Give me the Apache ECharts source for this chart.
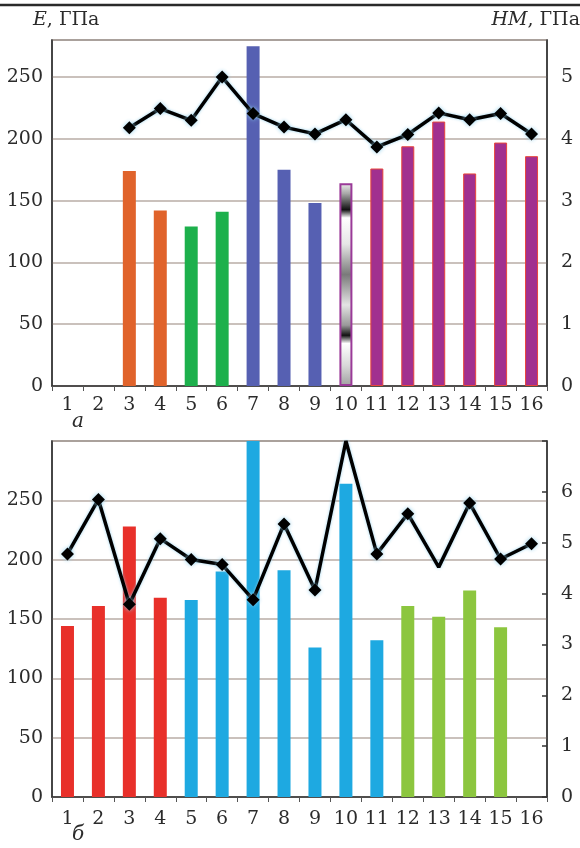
<!DOCTYPE html>
<html>
<head>
<meta charset="utf-8">
<script src="https://cdn.jsdelivr.net/npm/echarts@6/dist/echarts.min.js"></script>
<style>
html,body{margin:0;padding:0;background:#fff;}
#c{width:580px;height:848px;}
</style>
</head>
<body>
<div id="c"></div>
<script>
// ---- data ----
const categories = ['1','2','3','4','5','6','7','8','9','10','11','12','13','14','15','16'];
// panel a
const eTop  = [null, null, 174, 142, 129, 141, 275, 175, 148, 164, 176, 194, 214, 172, 197, 186];
const hmTop = [null, null, 4.18, 4.49, 4.30, 5.00, 4.41, 4.19, 4.08, 4.31, 3.87, 4.07, 4.42, 4.31, 4.41, 4.08];
const groupTop = [0, 0, 0, 0, 1, 1, 2, 2, 2, 3, 4, 4, 4, 4, 4, 4];
// panel b
const eBottom  = [144, 161, 228, 168, 166, 190, 300, 191, 126, 264, 132, 161, 152, 174, 143, null];
const hmBottom = [4.78, 5.85, 3.79, 5.08, 4.67, 4.57, 3.88, 5.37, 4.07, 7.0, 4.78, 5.57, 4.52, 5.78, 4.68, 4.98];
const groupBottom = [0, 0, 0, 0, 1, 1, 1, 1, 1, 1, 1, 2, 2, 2, 2, 2];
const hmBottomNoMarker = [9, 12]; // indices drawn without diamond
const leftTitle = 'E';
const rightTitle = 'HM';
const unitText = ', ГПа';
const panelLabels = ['а', 'б'];

// ---- styles ----
const FONT = '"DejaVu Serif", "Liberation Serif", serif';
const FS = 19;
const TXT = '#2b2b2b';
const GRIDC = '#b9aca6';
const stripe = new echarts.graphic.LinearGradient(0, 0, 0, 1, [
  {offset: 0, color: '#eeeeee'},
  {offset: 0.05, color: '#a8a8a8'},
  {offset: 0.13, color: '#111111'},
  {offset: 0.17, color: '#ffffff'},
  {offset: 0.30, color: '#e6e6e6'},
  {offset: 0.45, color: '#7a7a7a'},
  {offset: 0.60, color: '#e4e4e4'},
  {offset: 0.70, color: '#9a9a9a'},
  {offset: 0.75, color: '#111111'},
  {offset: 0.79, color: '#ffffff'},
  {offset: 0.90, color: '#d8d8d8'},
  {offset: 1, color: '#a0a0a0'}
]);
const topStyles = [
  {color: '#e0632b'},
  {color: '#1db04c'},
  {color: '#5660b2'},
  {color: stripe, borderColor: '#9a3a98', borderWidth: 2},
  {color: '#a1308f', borderColor: '#e8463c', borderWidth: 1}
];
const bottomStyles = [
  {color: '#e8302a'},
  {color: '#1ea9e1'},
  {color: '#8cc63f'}
];

function barData(vals, groups, styles) {
  return vals.map((v, i) => v == null ? null : {value: v, itemStyle: styles[groups[i]]});
}

const lineStyleCommon = {
  color: '#000', width: 3.5,
  shadowColor: 'rgba(140,205,235,0.9)', shadowBlur: 3
};
const itemStyleCommon = {
  color: '#000', shadowColor: 'rgba(140,205,235,0.95)', shadowBlur: 4
};

function xAxis(gi, margin) {
  return {
    type: 'category', gridIndex: gi, data: categories,
    axisLine: {show: true, lineStyle: {color: '#333', width: 1.5}},
    axisTick: {show: true, length: 5, lineStyle: {color: '#555'}},
    axisLabel: {fontFamily: FONT, fontSize: FS, color: TXT, margin: margin, interval: 0},
    splitLine: {show: false}
  };
}
function yLeft(gi, max) {
  return {
    type: 'value', gridIndex: gi, position: 'left', min: 0, max: max, interval: 50,
    axisLine: {show: true, lineStyle: {color: '#333', width: 1.5}},
    axisTick: {show: false},
    axisLabel: {fontFamily: FONT, fontSize: FS, color: TXT, margin: 9,
      formatter: v => (v % 50 === 0 && v < max) ? String(v) : ''},
    splitLine: {show: true, lineStyle: {color: GRIDC, width: 1.5}}
  };
}
function yRight(gi, max, ticks) {
  return {
    type: 'value', gridIndex: gi, position: 'right', min: 0, max: max, interval: 1,
    axisLine: {show: true, lineStyle: {color: '#333', width: 1.5}},
    axisTick: {show: ticks, inside: true, length: 5, lineStyle: {color: '#333', width: 1.5}},
    axisLabel: {fontFamily: FONT, fontSize: FS, color: TXT, margin: 14,
      formatter: v => (Number.isInteger(v) && v < max) ? String(v) : ''},
    splitLine: {show: false}
  };
}

const titleRich = {
  i: {fontFamily: FONT, fontSize: 19, fontStyle: 'italic', fill: TXT, color: TXT},
  n: {fontFamily: FONT, fontSize: 19, fill: TXT, color: TXT}
};

const chart = echarts.init(document.getElementById('c'), null, {renderer: 'canvas'});
chart.setOption({
  animation: false,
  backgroundColor: '#fff',
  grid: [
    {left: 52, right: 33, top: 40, height: 346, show: true, borderColor: '#555', borderWidth: 1.5, backgroundColor: 'transparent'},
    {left: 52, right: 33, top: 441, height: 356, show: true, borderColor: '#555', borderWidth: 1.5, backgroundColor: 'transparent'}
  ],
  xAxis: [xAxis(0, 10), xAxis(1, 13)],
  yAxis: [yLeft(0, 280), yRight(0, 5.6, false), yLeft(1, 300), yRight(1, 7, true)],
  series: [
    {type: 'bar', xAxisIndex: 0, yAxisIndex: 0, barWidth: 13,
      data: barData(eTop, groupTop, topStyles)},
    {type: 'line', xAxisIndex: 0, yAxisIndex: 1, data: hmTop,
      symbol: 'diamond', symbolSize: 13, connectNulls: false,
      lineStyle: lineStyleCommon, itemStyle: itemStyleCommon, z: 5},
    {type: 'bar', xAxisIndex: 1, yAxisIndex: 2, barWidth: 13,
      data: barData(eBottom, groupBottom, bottomStyles)},
    {type: 'line', xAxisIndex: 1, yAxisIndex: 3,
      data: hmBottom.map((v, i) => hmBottomNoMarker.includes(i) ? {value: v, symbolSize: 0} : v),
      symbol: 'diamond', symbolSize: 13,
      lineStyle: lineStyleCommon, itemStyle: itemStyleCommon, z: 5}
  ],
  graphic: [
    {type: 'line', shape: {x1: 0, y1: 5, x2: 580, y2: 5}, style: {stroke: '#2a2a2a', lineWidth: 2.5}},
    {type: 'text', left: 33, top: 11,
      style: {text: '{i|' + leftTitle + '}{n|' + unitText + '}', rich: titleRich,
        fontFamily: FONT, fontSize: 19, fill: TXT}},
    {type: 'text', right: 0, top: 11,
      style: {text: '{i|' + rightTitle + '}{n|' + unitText + '}', rich: titleRich,
        fontFamily: FONT, fontSize: 19, fill: TXT}},
    {type: 'text', left: 72, top: 412,
      style: {text: panelLabels[0], fontFamily: FONT, fontSize: 20, fontStyle: 'italic', fill: TXT}},
    {type: 'text', left: 72, top: 825,
      style: {text: panelLabels[1], fontFamily: FONT, fontSize: 20, fontStyle: 'italic', fill: TXT}}
  ]
});
</script>
</body>
</html>
